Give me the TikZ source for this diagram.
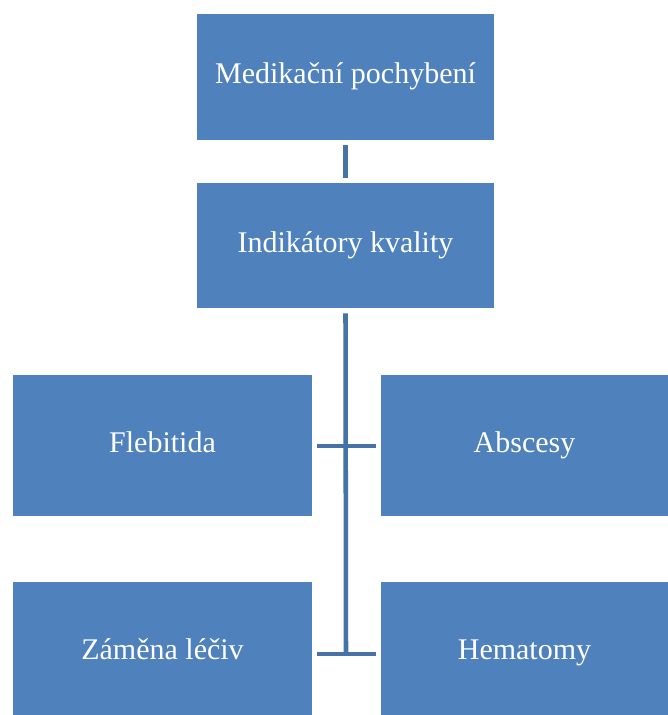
\documentclass[tikz,border=0pt]{standalone}
\usepackage{fontspec}
\setmainfont{Liberation Serif}
\definecolor{boxblue}{RGB}{79,129,189}
\definecolor{linkblue}{RGB}{69,114,167}
\begin{document}
\begin{tikzpicture}[x=0.75pt,y=-0.75pt,
  itembox/.style={fill=boxblue,draw=none,text=white,inner sep=0pt,
    text height=1.24em,text depth=0.22em,
    font=\fontsize{22.5}{27}\selectfont},
  link/.style={draw=linkblue,line width=3.4pt}]
\useasboundingbox (0,0) rectangle (668,715);
\clip (0,0) rectangle (668,715);
% boxes
\node[itembox,minimum width=297*0.75pt,minimum height=126*0.75pt] (top) at (345.5,77) {Medikační pochybení};
\node[itembox,minimum width=297*0.75pt,minimum height=125*0.75pt] (mid) at (345.5,245.5) {Indikátory kvality};
\node[itembox,minimum width=299*0.75pt,minimum height=141*0.75pt] (fleb) at (162.5,445.5) {Flebitida};
\node[itembox,minimum width=287*0.75pt,minimum height=141*0.75pt] (absc) at (524.5,445.5) {Abscesy};
\node[itembox,minimum width=299*0.75pt,minimum height=141*0.75pt] (zam) at (162.5,652.5) {Záměna léčiv};
\node[itembox,minimum width=287*0.75pt,minimum height=141*0.75pt] (hema) at (524.5,652.5) {Hematomy};
% junctions on the trunk
\coordinate (j1) at (346,446);
\coordinate (j2) at (346,654);
% connectors
\draw[link] ([yshift=-3.75pt]top.south) -- ([yshift=3.75pt]mid.north);
\draw[link] ([yshift=-3.75pt]mid.south) -- (j2);
\draw[link] ([xshift=3.75pt]fleb.east |- j1) -- ([xshift=-3.75pt]absc.west |- j1);
\draw[link] ([xshift=3.75pt]zam.east |- j2) -- ([xshift=-3.75pt]hema.west |- j2);
\end{tikzpicture}
\end{document}
